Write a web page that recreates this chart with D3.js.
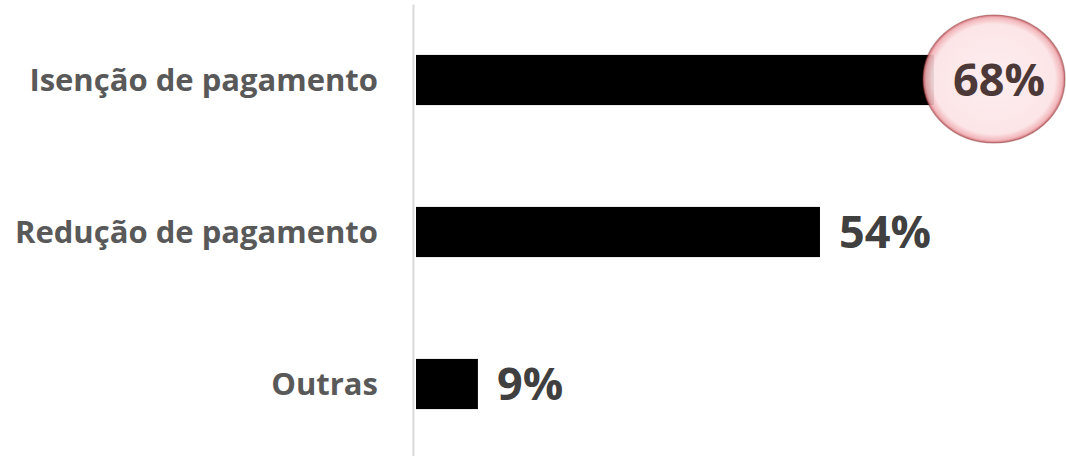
<!DOCTYPE html>
<html>
<head>
<meta charset="utf-8">
<script src="https://cdn.jsdelivr.net/npm/d3@7"></script>
<style>
  body { margin: 0; background: #fff; }
  svg { display: block; }
</style>
</head>
<body>
<svg id="chart"></svg>
<script>
var categories = ["Isenção de pagamento", "Redução de pagamento", "Outras"];
var values = [68.6, 53.5, 8.2];
var valueLabels = ["68%", "54%", "9%"];

var width = 1066;
var height = 456;

var svg = d3.select("#chart")
            .attr("width", width)
            .attr("height", height);

var x = d3.scaleLinear()
          .domain([0, 68.6])
          .range([416, 934]);

var y = d3.scaleBand()
          .domain(categories)
          .range([4, 460])
          .paddingInner(0.67)
          .paddingOuter(0.335);

// gradient for the highlight bubble
var defs = svg.append("defs");
var grad = defs.append("radialGradient").attr("id", "bubble");
grad.append("stop").attr("offset", "0%").attr("stop-color", "#fdecee");
grad.append("stop").attr("offset", "86%").attr("stop-color", "#fce3e5");
grad.append("stop").attr("offset", "96%").attr("stop-color", "#f0b0b5");
grad.append("stop").attr("offset", "100%").attr("stop-color", "#c86268");

// axis with category labels
var axis = svg.append("g")
              .attr("transform", "translate(413,0)")
              .call(d3.axisLeft(y).tickSize(0).tickPadding(35));
axis.select(".domain")
    .attr("stroke", "#d9d9d9")
    .attr("stroke-width", 2);
axis.selectAll("text")
    .attr("font-family", "'Open Sans', sans-serif")
    .attr("font-weight", "bold")
    .attr("font-size", "31px")
    .attr("fill", "#595959")
    .attr("dy", "0.36em");

svg.selectAll("rect.bar")
   .data(values)
   .enter()
   .append("rect")
   .attr("class", "bar")
   .attr("x", x(0))
   .attr("y", function(d, i) { return y(categories[i]); })
   .attr("width", function(d) { return x(d) - x(0); })
   .attr("height", y.bandwidth())
   .attr("fill", "#000");

// bubble behind the top value
svg.append("ellipse")
   .attr("cx", x(values[0]) + 60)
   .attr("cy", y(categories[0]) + y.bandwidth() / 2 - 1)
   .attr("rx", 71)
   .attr("ry", 64)
   .attr("fill", "url(#bubble)")
   .attr("fill-opacity", 0.92)
   .attr("stroke", "#8b3c3c")
   .attr("stroke-opacity", 0.5)
   .attr("stroke-width", 1.2);

svg.selectAll("text.val")
   .data(values)
   .enter()
   .append("text")
   .attr("class", "val")
   .text(function(d, i) { return valueLabels[i]; })
   .attr("x", function(d) { return x(d) + 19; })
   .attr("y", function(d, i) { return y(categories[i]) + y.bandwidth() / 2; })
   .attr("dy", "0.36em")
   .attr("fill", function(d, i) { return i == 0 ? "#4d3838" : "#404040"; })
   .attr("font-family", "'Open Sans', sans-serif")
   .attr("font-weight", "bold")
   .attr("font-size", "45px");
</script>
</body>
</html>
